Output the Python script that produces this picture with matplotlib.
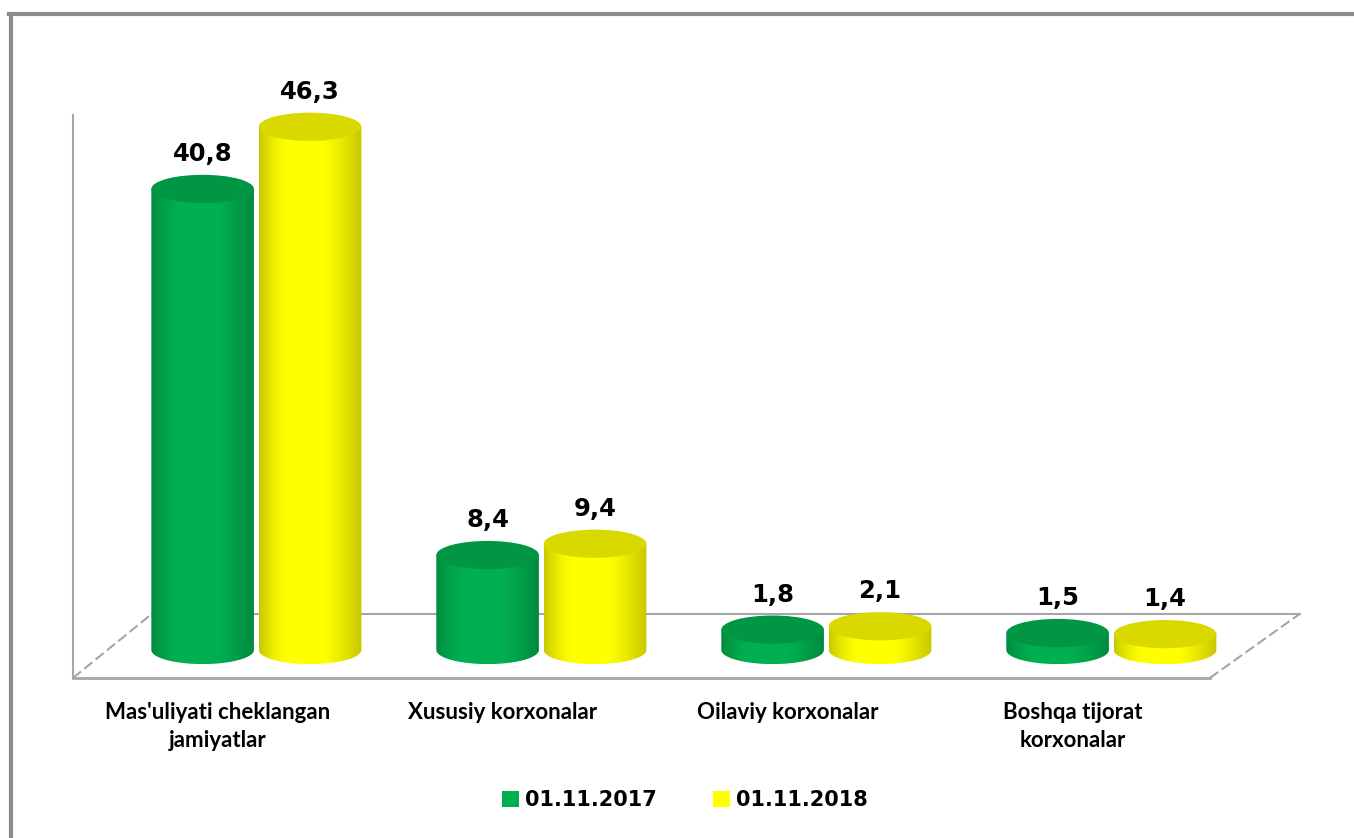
import numpy as np
import matplotlib.pyplot as plt
import matplotlib.colors as mcolors
from matplotlib.patches import Ellipse, PathPatch, Patch
from matplotlib.path import Path
from matplotlib.lines import Line2D

# Ma'lumotlar
kategoriyalar = ["Mas'uliyati cheklangan\njamiyatlar", "Xususiy korxonalar",
                 "Oilaviy korxonalar", "Boshqa tijorat\nkorxonalar"]
qiymat_2017 = [40.8, 8.4, 1.8, 1.5]
qiymat_2018 = [46.3, 9.4, 2.1, 1.4]
seriyalar = ["01.11.2017", "01.11.2018"]
ranglar = ['#00B050', '#FFFF00']

fig = plt.figure(figsize=(13.54, 8.38), dpi=100)
ax = fig.add_axes([0, 0, 1, 1])
ax.axis('off')

# ramka (faqat yuqori va chap)
fig.add_artist(Line2D([9 / 1354, 1], [1 - 14 / 838, 1 - 14 / 838], color='#8c8c8c', lw=3, transform=fig.transFigure))
fig.add_artist(Line2D([11 / 1354, 11 / 1354], [0, 1 - 14 / 838], color='#8c8c8c', lw=3, transform=fig.transFigure))

# pol va devor
n = len(kategoriyalar)
chap, orqa_chap = -0.642, -0.365
ong, orqa_ong = n - 1 + 0.347, n - 1 + 0.663
old_y, orqa_y = -2.48, 3.2
kulrang = '#a6a6a6'
ax.plot([chap, ong], [old_y, old_y], color=kulrang, lw=2, zorder=1)
ax.plot([orqa_chap, orqa_ong], [orqa_y, orqa_y], color=kulrang, lw=1.5, zorder=1)
ax.plot([chap, orqa_chap], [old_y, orqa_y], color=kulrang, lw=1.5, ls=(0, (5, 2)), zorder=1)
ax.plot([ong, orqa_ong], [old_y, orqa_y], color=kulrang, lw=1.5, ls=(0, (5, 2)), zorder=1)
ax.plot([chap, chap], [old_y, 47.3], color=kulrang, lw=1.5, zorder=1)

z = [5]


def silindr(xc, h, rang, w=0.36, eh=2.5):
    rgb = np.array(mcolors.to_rgb(rang))
    t = np.linspace(0, 1, 200)
    k = 0.78 + 0.26 * np.sin(np.pi * t ** 0.85)
    k = np.clip(k, 0, 1)
    grad = np.clip(rgb[None, :] * k[:, None], 0, 1)
    teta = np.linspace(np.pi, 2 * np.pi, 60)
    pts = [(xc + w / 2 * np.cos(a), eh / 2 * np.sin(a)) for a in teta]
    pts += [(xc + w / 2, h), (xc - w / 2, h), pts[0]]
    kodlar = [Path.MOVETO] + [Path.LINETO] * (len(pts) - 2) + [Path.CLOSEPOLY]
    patch = PathPatch(Path(pts, kodlar), facecolor='none', edgecolor='none', zorder=z[0])
    ax.add_patch(patch)
    im = ax.imshow(grad[None, :, :], extent=(xc - w / 2, xc + w / 2, -eh / 2, h),
                   aspect='auto', zorder=z[0], interpolation='bilinear')
    im.set_clip_path(patch)
    ust = np.clip(rgb * 0.85, 0, 1)
    ax.add_patch(Ellipse((xc, h), w, eh, facecolor=ust, edgecolor='none', zorder=z[0] + 0.5))
    z[0] += 1


for i in range(n):
    for j, (qiymatlar, rang) in enumerate([(qiymat_2017, ranglar[0]), (qiymat_2018, ranglar[1])]):
        xc = i + (-0.187 if j == 0 else 0.19)
        v = qiymatlar[i]
        silindr(xc, v, rang)
        ax.text(xc, v + 3.1, f"{v:.1f}".replace('.', ','), ha='center', va='center',
                fontsize=17.5, fontweight='bold', family='DejaVu Sans', zorder=50)
    ax.text(i - 0.135, -4.6, kategoriyalar[i], ha='center', va='top', fontsize=16,
            fontweight='bold', family='Lato', linespacing=1.4)

ax.set_xlim(-0.898, 3.853)
ax.set_ylim(-16.64, 57.52)

handles = [Patch(facecolor=ranglar[0]), Patch(facecolor=ranglar[1])]
fig.legend(handles, seriyalar, loc='center', bbox_to_anchor=(685 / 1354, 1 - 800 / 838),
           ncol=2, frameon=False, prop={'family': 'DejaVu Sans', 'weight': 'bold', 'size': 15},
           handlelength=0.8, handleheight=0.8, handletextpad=0.3, columnspacing=2.7)

fig.savefig('out.png', dpi=100, facecolor='white')
